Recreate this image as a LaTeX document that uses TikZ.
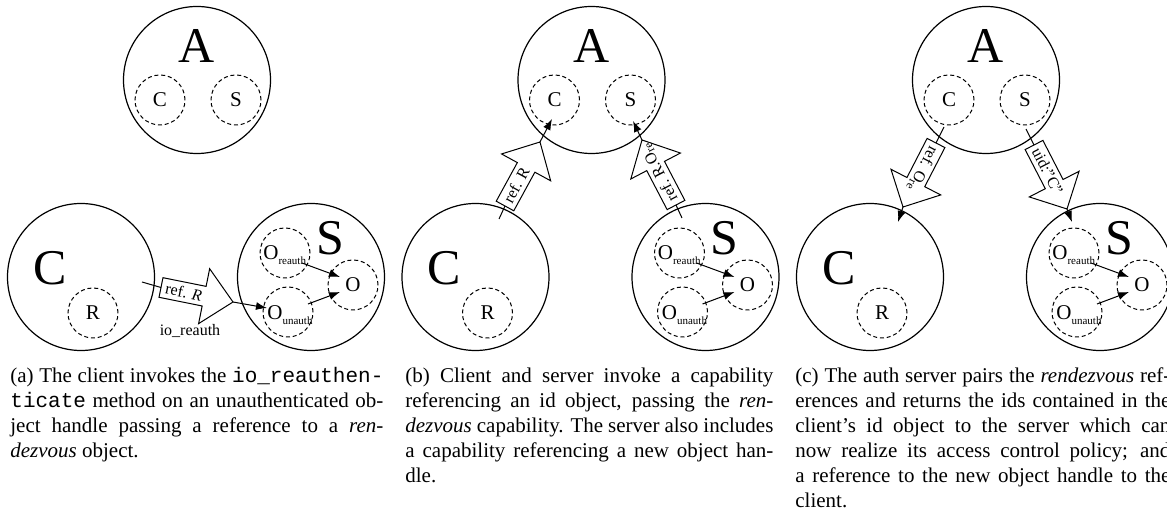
\documentclass[tikz,border=0pt]{standalone}
\usepackage{fontspec}
\setmainfont{Liberation Serif}
\setmonofont{Liberation Mono}
\usetikzlibrary{calc,arrows.meta}
\tikzset{
 bigc/.style={circle,draw,line width=0.6pt,minimum size=73.5pt,inner sep=0pt},
 dcirc/.style={circle,draw,dash pattern=on 2pt off 1.4pt,line width=0.5pt,minimum size=25pt,inner sep=0pt,font=\fontsize{10.5}{12}\selectfont},
 biglet/.style={font=\fontsize{25}{30}\selectfont,inner sep=0pt},
 thinln/.style={line width=0.5pt},
 arr/.style={line width=0.5pt,-{Latex[length=5.5pt,width=4pt]}},
 harrow/.style={draw,line width=0.5pt,fill=white},
 atext/.style={font=\fontsize{8}{9}\selectfont,inner sep=0pt},
 olab/.style={anchor=base west,inner sep=0pt,font=\fontsize{10.5}{12}\selectfont},
 capnode/.style={anchor=base west,inner sep=0pt,font=\fontsize{10.5}{12.5}\selectfont}
}
\newcommand{\oname}[1]{O\raisebox{-0.5ex}{\fontsize{5.5}{6}\selectfont #1}}
\newcommand{\basepanel}[2]{%
\begin{scope}[shift={(#2,0)}]
 \node[bigc] (#1A) at (0,80) {};
 \node[biglet] (#1Al) at (0,46) {A};
 \node[dcirc] (#1Ac) at (-37,100) {C};
 \node[dcirc] (#1As) at (39,100) {S};
 \node[bigc] (#1C) at (-116,277) {};
 \node[biglet] (#1Cl) at (-147,268) {C};
 \node[dcirc] (#1R) at (-104,313) {R};
 \node[bigc] (#1S) at (114,277) {};
 \node[biglet] (#1Sl) at (133,238) {S};
 \node[dcirc] (#1Ore) at (88,253) {};
 \node[dcirc] (#1Oun) at (91,312) {};
 \node[dcirc] (#1O) at (156,285) {O};
 \node[olab] (#1Orel) at (66,260) {\oname{reauth}};
 \node[olab] (#1Ounl) at (70,320) {\oname{unauth}};
 \coordinate (#1p1) at (105,263); \coordinate (#1q1) at (143,277);
 \coordinate (#1p2) at (111,304); \coordinate (#1q2) at (143,292);
 \draw[arr] (#1p1) -- (#1q1);
 \draw[arr] (#1p2) -- (#1q2);
\end{scope}}
\newcommand{\hollow}[4]{%
 \coordinate (#1b) at #2; \coordinate (#1t) at #3;
 \coordinate (#1h) at ($(#1b)!22pt!(#1t)$);
 \draw[harrow] ($(#1b)!5pt!90:(#1t)$) -- ($(#1h)!5pt!90:(#1t)$) -- ($(#1h)!14pt!90:(#1t)$) -- (#1t) -- ($(#1h)!14pt!-90:(#1t)$) -- ($(#1h)!5pt!-90:(#1t)$) -- ($(#1b)!5pt!-90:(#1t)$) -- cycle;
 \path (#1b) -- (#1t) node[atext,pos=0.06,sloped,allow upside down,anchor=west] (#1lab) {#4};
}
\begin{document}
\begin{tikzpicture}[x=0.5pt,y=-0.5pt]
\useasboundingbox (0,0) rectangle (1167,512);
\basepanel{a}{197}
\basepanel{b}{591.5}
\basepanel{c}{986}
% panel a
\coordinate (ha0) at (142,282);
\coordinate (ha1) at (267,308);
\hollow{ha}{(161,287.5)}{(233,302)}{ref. \textit{R}}
\draw[thinln] (ha0) -- (hab);
\draw[arr] (hat) -- (ha1);
\node[atext] (io) at (190,331) {io\_reauth};
% panel b
\coordinate (hb0) at (499,219);
\coordinate (hb1) at (552,119);
\hollow{hb}{(505,206)}{(540,142)}{ref. R}
\draw[thinln] (hb0) -- (hbb);
\draw[arr] (hbt) -- (hb1);
\coordinate (hc0) at (682,218);
\coordinate (hc1) at (633,121);
\hollow{hc}{(676,205)}{(642,140)}{ref. R.O\textsubscript{re}}
\draw[thinln] (hc0) -- (hcb);
\draw[arr] (hct) -- (hc1);
% panel c
\coordinate (hd0) at (944,127);
\coordinate (hd1) at (898,222);
\hollow{hd}{(936,143)}{(903,207)}{ref. O\textsubscript{re}}
\draw[thinln] (hd0) -- (hdb);
\draw[arr] (hdt) -- (hd1);
\coordinate (he0) at (1026,129);
\coordinate (he1) at (1072,222);
\hollow{he}{(1034,145)}{(1067,209)}{uid:"C"}
\draw[thinln] (he0) -- (heb);
\draw[arr] (het) -- (he1);
% captions
\node[capnode] (capa) at (10,383) {\parbox[t]{186.5pt}{%
\makebox[186.5pt][s]{(a) The client invokes the {\ttfamily io\_reauthen-}}\\
\makebox[186.5pt][s]{{\ttfamily ticate} method on an unauthenticated ob-}\\
\makebox[186.5pt][s]{ject handle passing a reference to a \textit{ren-}}\\
\textit{dezvous} object.}};
\node[capnode] (capb) at (405,383) {\parbox[t]{184pt}{%
\makebox[184pt][s]{(b) Client and server invoke a capability}\\
\makebox[184pt][s]{referencing an id object, passing the \textit{ren-}}\\
\makebox[184pt][s]{\textit{dezvous} capability. The server also includes}\\
\makebox[184pt][s]{a capability referencing a new object han-}\\
dle.}};
\node[capnode] (capc) at (795,383) {\parbox[t]{187.5pt}{%
\makebox[187.5pt][s]{(c) The auth server pairs the \textit{rendezvous} ref-}\\
\makebox[187.5pt][s]{erences and returns the ids contained in the}\\
\makebox[187.5pt][s]{client's id object to the server which can}\\
\makebox[187.5pt][s]{now realize its access control policy; and}\\
\makebox[187.5pt][s]{a reference to the new object handle to the}\\
client.}};
\end{tikzpicture}
\end{document}
